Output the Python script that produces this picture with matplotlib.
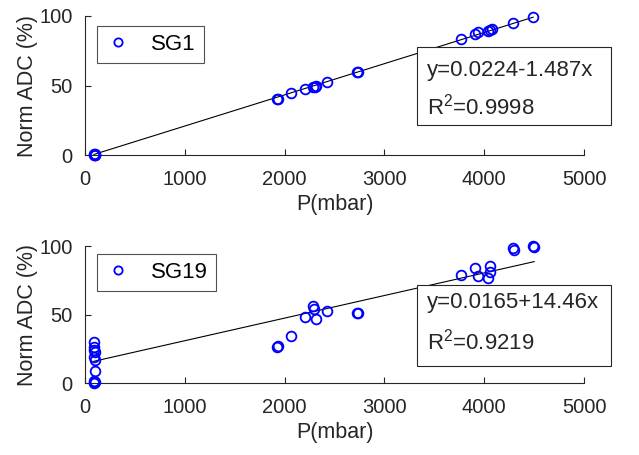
import numpy as np
import matplotlib
matplotlib.use('Agg')
import matplotlib.pyplot as plt
from matplotlib.patches import Rectangle

plt.rcParams['font.family'] = ['Liberation Sans', 'DejaVu Sans']
plt.rcParams['mathtext.fontset'] = 'custom'
plt.rcParams['mathtext.rm'] = 'Liberation Sans'
plt.rcParams['mathtext.it'] = 'Liberation Sans:italic'

# SG1 data (pressure mbar, normalised ADC %)
p_sg1 = [90, 95, 100, 100, 105, 1920, 1930, 2060, 2200, 2280, 2300, 2310,
         2420, 2730, 2740, 3770, 3910, 3940, 4040, 4060, 4080, 4290, 4490]
adc_sg1 = [0, 0.5, 1, 0, 0.3, 40.3, 40.6, 44.6, 47.5, 49, 49.3, 49.6,
           52.5, 59.7, 60, 83.5, 87, 88.5, 89, 90, 90.3, 95, 99.4]
fit_sg1 = (0.0224, -1.487)   # slope, intercept
txt_sg1 = ['y=0.0224-1.487x', 'R$^2$=0.9998']

# SG19 data
p_sg19 = [90, 95, 100, 95, 100, 90, 100, 95, 90, 100, 1920, 1930, 2060, 2200,
          2280, 2290, 2310, 2420, 2730, 2740, 3770, 3910, 3940, 4040, 4060,
          4060, 4290, 4300, 4490, 4500]
adc_sg19 = [30, 26.5, 22.8, 19.2, 16.8, 24, 9, 1.7, 0, 0.5, 26.5, 27, 34.5, 48,
            56, 54, 47, 52.3, 50.9, 51.5, 78.6, 83.7, 78.3, 76.9, 85.4,
            81.2, 98.3, 97.5, 100, 99.3]
fit_sg19 = (0.0165, 14.46)
txt_sg19 = ['y=0.0165+14.46x', 'R$^2$=0.9219']

fig = plt.figure(figsize=(6.39, 4.55), dpi=100)
ax1 = fig.add_axes([0.133, 0.659, 0.781, 0.306])
ax2 = fig.add_axes([0.133, 0.158, 0.781, 0.301])

panels = [
    (ax1, p_sg1, adc_sg1, fit_sg1, txt_sg1, 'SG1',
     (0.024, 0.928), (0.665, 0.216, 0.39, 0.561), (0.61, 0.35)),
    (ax2, p_sg19, adc_sg19, fit_sg19, txt_sg19, 'SG19',
     (0.024, 0.94), (0.665, 0.124, 0.39, 0.591), (0.59, 0.30)),
]

for ax, px, py, fit, txt, name, leg_pos, box, ty in panels:
    ax.plot(px, py, 'o', mfc='none', mec='#0000ff', ms=7, mew=1.3,
            clip_on=False, label=name, zorder=3)
    xx = np.array([min(px), max(px)])
    ax.plot(xx, fit[0] * xx + fit[1], color='k', lw=0.8, zorder=2)
    ax.set_xlim(0, 5000)
    ax.set_ylim(0, 100)
    ax.set_xticks([0, 1000, 2000, 3000, 4000, 5000])
    ax.set_yticks([0, 50, 100])
    ax.tick_params(direction='in', length=4, width=0.8, labelsize=14.5,
                   colors='#262626')
    ax.tick_params(axis='x', pad=10.5)
    ax.tick_params(axis='y', pad=9)
    for s in ['top', 'right']:
        ax.spines[s].set_visible(False)
    for s in ['left', 'bottom']:
        ax.spines[s].set_color('#262626')
        ax.spines[s].set_linewidth(0.8)
    ax.set_xlabel('P(mbar)', fontsize=15.5, color='#262626', labelpad=4)
    ax.set_ylabel('Norm ADC (%)', fontsize=15.5, color='#262626', labelpad=1)
    leg = ax.legend(loc='upper left', bbox_to_anchor=leg_pos, borderaxespad=0,
                    fontsize=16, frameon=True, fancybox=False, handlelength=1.2,
                    handletextpad=0.9, borderpad=0.35, markerscale=0.85)
    leg.get_frame().set_edgecolor('#262626')
    leg.get_frame().set_linewidth(0.8)
    rect = Rectangle((box[0], box[1]), box[2], box[3], transform=ax.transAxes,
                     fc='white', ec='#262626', lw=0.8, clip_on=False, zorder=4)
    ax.add_patch(rect)
    ax.text(box[0] + 0.02, ty[0], txt[0], transform=ax.transAxes, fontsize=16,
            va='center', color='#262626', zorder=5, clip_on=False)
    ax.text(box[0] + 0.02, ty[1], txt[1], transform=ax.transAxes, fontsize=16,
            va='center', color='#262626', zorder=5, clip_on=False)

fig.savefig('out.png', dpi=100)
